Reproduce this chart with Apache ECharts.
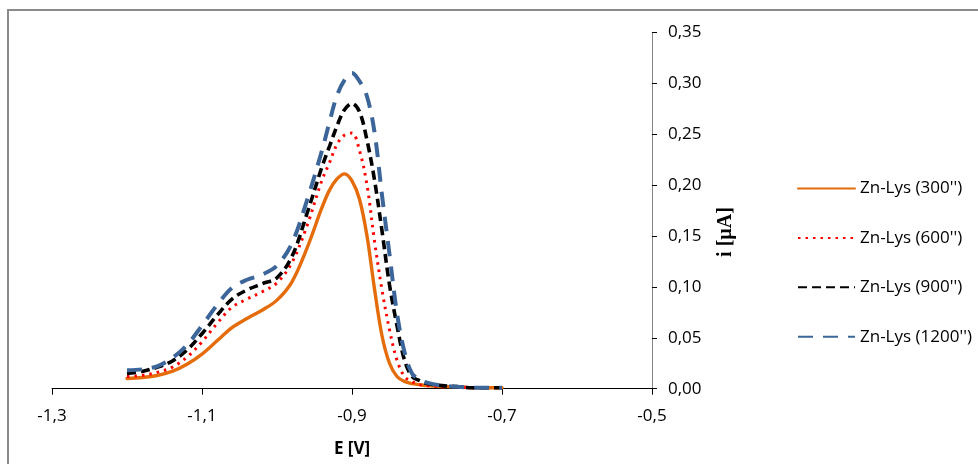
<!DOCTYPE html>
<html>
<head>
<meta charset="utf-8">
<script src="https://cdn.jsdelivr.net/npm/echarts@6/dist/echarts.min.js"></script>
<style>
html,body{margin:0;padding:0;background:#fff;}
#chart{width:978px;height:464px;}
</style>
</head>
<body>
<div id="chart"></div>
<script>
// Potential E [V]
var potentials = [-1.20,-1.18,-1.16,-1.14,-1.12,-1.10,-1.08,-1.06,-1.04,-1.02,-1.00,-0.98,-0.96,-0.94,-0.93,-0.92,-0.91,-0.90,-0.89,-0.88,-0.87,-0.86,-0.85,-0.84,-0.83,-0.82,-0.81,-0.80,-0.78,-0.76,-0.74,-0.72,-0.70];
// Current i [µA]
var znLys300  = [0.010,0.011,0.013,0.017,0.024,0.034,0.047,0.060,0.069,0.077,0.087,0.105,0.138,0.178,0.195,0.206,0.211,0.204,0.186,0.150,0.098,0.052,0.025,0.012,0.007,0.005,0.004,0.003,0.002,0.002,0.001,0.001,0.001];
var znLys600  = [0.012,0.013,0.016,0.021,0.031,0.046,0.064,0.080,0.088,0.095,0.104,0.124,0.160,0.205,0.222,0.240,0.249,0.251,0.234,0.200,0.145,0.097,0.058,0.028,0.012,0.007,0.004,0.003,0.002,0.002,0.001,0.001,0.001];
var znLys900  = [0.015,0.017,0.021,0.027,0.038,0.054,0.072,0.088,0.097,0.103,0.109,0.130,0.172,0.218,0.238,0.258,0.274,0.280,0.272,0.244,0.205,0.155,0.102,0.062,0.028,0.012,0.008,0.005,0.003,0.002,0.001,0.001,0.001];
var znLys1200 = [0.018,0.019,0.022,0.030,0.043,0.062,0.082,0.099,0.107,0.112,0.121,0.143,0.185,0.234,0.262,0.288,0.303,0.310,0.302,0.287,0.252,0.190,0.132,0.074,0.036,0.015,0.009,0.006,0.003,0.002,0.001,0.001,0.001];
var seriesNames = ["Zn-Lys (300'')", "Zn-Lys (600'')", "Zn-Lys (900'')", "Zn-Lys (1200'')"];
var xTicks = {min: -1.3, max: -0.5, interval: 0.2};
var yTicks = {min: 0, max: 0.35, interval: 0.05};

function pairs(ys){ return potentials.map(function(x,i){ return [x, ys[i]]; }); }

var styles = [
  {color:'#E46C0A', width:3.4, type:'solid', cap:'round'},
  {color:'#FF0000', width:3, type:[2.5,5], cap:'butt'},
  {color:'#000000', width:3.6, type:[9,5], cap:'butt'},
  {color:'#3C6699', width:4, type:[15,10], cap:'butt'}
];
var values = [znLys300, znLys600, znLys900, znLys1200];

var chart = echarts.init(document.getElementById('chart'), null, {renderer:'canvas'});
var font = '"Open Sans", Lato, sans-serif';
chart.setOption({
  animation:false,
  backgroundColor:'#ffffff',
  graphic:[
    {type:'rect', shape:{x:8, y:10, width:1000, height:500}, style:{fill:'none', stroke:'#8a8a8a', lineWidth:2}, z:-1},
    {type:'text', x:726, y:232, rotation:Math.PI/2,
     style:{text:'i [µA]', fontFamily:'"Liberation Serif", serif', fontWeight:'bold', fontSize:20, fill:'#000', align:'center', verticalAlign:'middle'}}
  ],
  grid:{left:52, right:326, top:32.3, bottom:75.3, containLabel:false},
  legend:{
    orient:'vertical', left:797, top:180, padding:0,
    itemWidth:57, itemHeight:20, itemGap:32.4,
    itemStyle:{opacity:0},
    textStyle:{fontFamily:font, fontSize:17, color:'#000', padding:[0,0,0,0]},
    data:seriesNames
  },
  xAxis:{
    type:'value', min:xTicks.min, max:xTicks.max, interval:xTicks.interval,
    name:'E [V]', nameLocation:'middle', nameGap:52,
    nameTextStyle:{fontFamily:font, fontWeight:'bold', fontSize:17, color:'#000'},
    axisLine:{show:true, onZero:false, lineStyle:{color:'#000', width:1}},
    axisTick:{show:true, inside:false, length:6, lineStyle:{color:'#000'}},
    axisLabel:{margin:19, fontFamily:font, fontSize:17, color:'#000',
      formatter:function(v){ return v.toFixed(1).replace('.', ','); }},
    splitLine:{show:false}
  },
  yAxis:{
    type:'value', position:'right', min:yTicks.min, max:yTicks.max, interval:yTicks.interval,
    axisLine:{show:true, lineStyle:{color:'#868686', width:1}},
    axisTick:{show:true, inside:false, length:5, lineStyle:{color:'#000'}},
    axisLabel:{margin:16, fontFamily:font, fontSize:17, color:'#000',
      formatter:function(v){ return v.toFixed(2).replace('.', ','); }},
    splitLine:{show:false}
  },
  series: values.map(function(v, k){
    return {
      type:'line', name:seriesNames[k], data:pairs(v),
      smooth:0.35, showSymbol:false, symbol:'none',
      lineStyle:{color:styles[k].color, width:styles[k].width, type:styles[k].type, cap:styles[k].cap},
      itemStyle:{color:styles[k].color},
      z:2+k
    };
  })
});
</script>
</body>
</html>
